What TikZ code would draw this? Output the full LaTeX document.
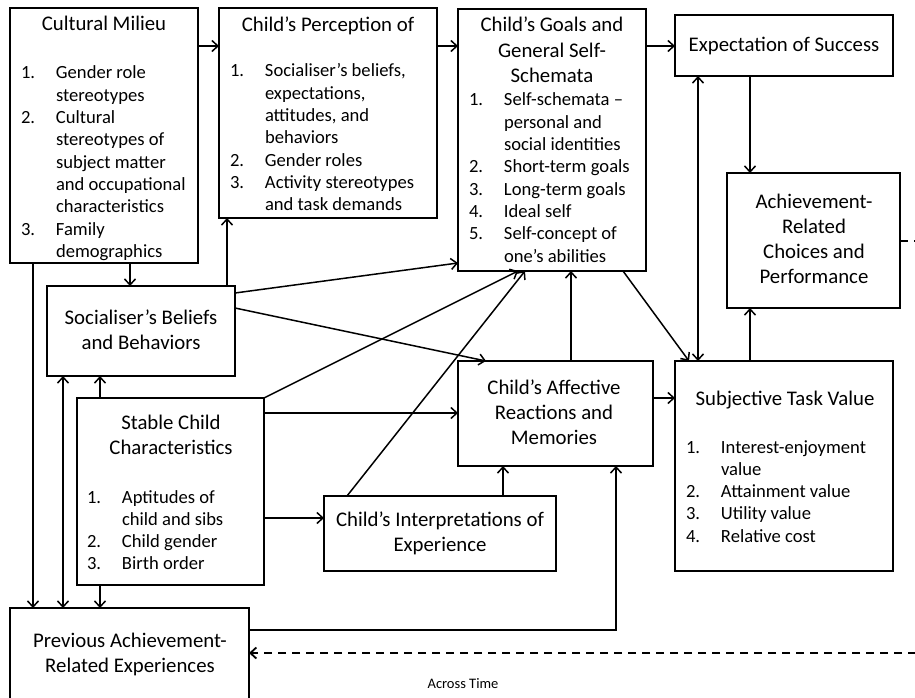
\documentclass[tikz,border=0pt]{standalone}
\usepackage{fontspec}
\setmainfont{Carlito}
\usetikzlibrary{arrows.meta}
\newcommand\ttltab[1]{\begin{tabular}[t]{@{}c@{}}#1\end{tabular}}
\newcommand\lsttab[1]{\begin{tabular}[t]{@{}p{35pt}@{}l@{}}#1\end{tabular}}
\begin{document}
\begin{tikzpicture}[x=1pt,y=-1pt,
  box/.style={draw, line width=2pt, inner sep=0pt, outer sep=0pt, anchor=north west},
  arr/.style={line width=1.5pt, -{Straight Barb[length=6pt,width=11pt]}},
  darr/.style={line width=1.5pt, {Straight Barb[length=6pt,width=11pt]}-{Straight Barb[length=6pt,width=11pt]}},
  dsh/.style={line width=1.8pt, dash pattern=on 8pt off 6pt},
  ttl/.style={inner sep=0pt, outer sep=0pt, anchor=base, font=\fontsize{20.8}{25.3}\selectfont},
  lst/.style={inner sep=0pt, outer sep=0pt, anchor=base west, font=\fontsize{18.6}{22.3}\selectfont}]
\useasboundingbox (0,0) rectangle (915,698);
\clip (0,0) rectangle (915,698);
\fill[white] (0,0) rectangle (915,698);

% boxes
\node[box, minimum width=188pt, minimum height=255pt] (cm) at (10,8) {};
\node[box, minimum width=218pt, minimum height=210pt] (cp) at (219,8) {};
\node[box, minimum width=188pt, minimum height=262pt] (cg) at (458,9) {};
\node[box, minimum width=218pt, minimum height=61pt] (es) at (675,15) {};
\node[box, minimum width=173pt, minimum height=135pt] (acp) at (727,173) {};
\node[box, minimum width=188pt, minimum height=90pt] (sb) at (47,286) {};
\node[box, minimum width=187pt, minimum height=187pt] (sc) at (77,398) {};
\node[box, minimum width=232pt, minimum height=75pt] (ci) at (324,496) {};
\node[box, minimum width=239pt, minimum height=100pt] (pa) at (10,608) {};
\node[box, minimum width=195pt, minimum height=105pt] (ca) at (458,361) {};
\node[box, minimum width=218pt, minimum height=210pt] (stv) at (675,361) {};

% texts
\node[ttl] (cmT) at (104,31) {\ttltab{Cultural Milieu}};
\node[lst] (cmL) at (21,79) {\lsttab{1. & Gender role\\ & stereotypes\\ 2. & Cultural\\ & stereotypes of\\ & subject matter\\ & and occupational\\ & characteristics\\ 3. & Family\\ & demographics}};
\node[ttl] (cpT) at (328,32) {\ttltab{Child’s Perception of}};
\node[lst] (cpL) at (230,77) {\lsttab{1. & Socialiser’s beliefs,\\ & expectations,\\ & attitudes, and\\ & behaviors\\ 2. & Gender roles\\ 3. & Activity stereotypes\\ & and task demands}};
\node[ttl] (cgT) at (552,32) {\ttltab{Child’s Goals and\\ General Self-\\ Schemata}};
\node[lst] (cgL) at (469,106) {\lsttab{1. & Self-schemata –\\ & personal and\\ & social identities\\ 2. & Short-term goals\\ 3. & Long-term goals\\ 4. & Ideal self\\ 5. & Self-concept of\\ & one’s abilities}};
\node[ttl] (esT) at (784,52) {\ttltab{Expectation of Success}};
\node[ttl] (acpT) at (814,208) {\ttltab{Achievement-\\ Related\\ Choices and\\ Performance}};
\node[ttl] (sbT) at (141,324) {\ttltab{Socialiser’s Beliefs\\ and Behaviors}};
\node[ttl] (scT) at (171,429) {\ttltab{Stable Child\\ Characteristics}};
\node[lst] (scL) at (87,503) {\lsttab{1. & Aptitudes of\\ & child and sibs\\ 2. & Child gender\\ 3. & Birth order}};
\node[ttl] (ciT) at (440,526) {\ttltab{Child’s Interpretations of\\ Experience}};
\node[ttl] (paT) at (130,647) {\ttltab{Previous Achievement-\\ Related Experiences}};
\node[ttl] (caT) at (554,394) {\ttltab{Child’s Affective\\ Reactions and\\ Memories}};
\node[ttl] (stvT) at (785,405) {\ttltab{Subjective Task Value}};
\node[lst] (stvL) at (686,453) {\lsttab{1. & Interest-enjoyment\\ & value\\ 2. & Attainment value\\ 3. & Utility value\\ 4. & Relative cost}};
\node[inner sep=0pt, anchor=base, font=\fontsize{14.5}{16}\selectfont] (time) at (463,688) {Across Time};

% free ends
\coordinate (timeR) at (916,653);
\coordinate (acpR) at (916,241);

% top row
\draw[arr] ([yshift=-38pt]cm.north east) coordinate (a1) -- (a1 -| cp.west);
\draw[arr] ([yshift=-38pt]cp.north east) coordinate (a2) -- (a2 -| cg.west);
\draw[arr] ([yshift=-37pt]cg.north east) coordinate (a3) -- (a3 -| es.west);
\draw[arr] ([xshift=75pt]es.south west) coordinate (a4) -- (a4 |- acp.north);
\draw[darr] ([xshift=23pt]stv.north west) coordinate (a5) -- (a5 |- es.south);
\draw[arr] ([xshift=75pt]stv.north west) coordinate (a6) -- (a6 |- acp.south);
\draw[arr] ([xshift=165pt]cg.south west) -- ([xshift=14pt]stv.north west);
\draw[arr] ([xshift=113pt]ca.north west) coordinate (a8) -- (a8 |- cg.south);
\draw[arr] ([yshift=-37pt]ca.north east) coordinate (a9) -- (a9 -| stv.west);
\draw[arr] ([xshift=179pt]ci.north west) coordinate (a10) -- (a10 |- ca.south);
\draw[arr] ([yshift=-22pt]pa.north east) -| ([xshift=158pt]ca.south west);
\draw[dsh, -{Straight Barb[length=6pt,width=11pt]}] (timeR) -- (timeR -| pa.east);
\draw[dsh] ([yshift=-68pt]acp.north east) -- (acpR);

% left side
\draw[arr] ([xshift=23pt]cm.south west) coordinate (b1) -- (b1 |- pa.north);
\draw[arr] ([xshift=120pt]cm.south west) coordinate (b2) -- (b2 |- sb.north);
\draw[arr] ([xshift=180pt]sb.north west) coordinate (b3) -- (b3 |- cp.south);
\draw[arr] ([yshift=-7pt]sb.north east) -- ([yshift=8pt]cg.south west);
\draw[arr] ([yshift=-22pt]sb.north east) -- ([xshift=28pt]ca.north west);
\draw[arr] (sc.north east) -- ([xshift=60pt]cg.south west);
\draw[arr] ([xshift=23pt]ci.north west) -- ([xshift=67pt]cg.south west);
\draw[arr] ([yshift=-15pt]sc.north east) coordinate (b8) -- (b8 -| ca.west);
\draw[arr] ([yshift=-120pt]sc.north east) coordinate (b9) -- (b9 -| ci.west);
\draw[darr] ([xshift=16pt]sb.south west) coordinate (b10) -- (b10 |- pa.north);
\draw[arr] ([xshift=23pt]sc.north west) coordinate (b11) -- (b11 |- sb.south);
\draw[arr] ([xshift=23pt]sc.south west) coordinate (b12) -- (b12 |- pa.north);
\end{tikzpicture}
\end{document}
